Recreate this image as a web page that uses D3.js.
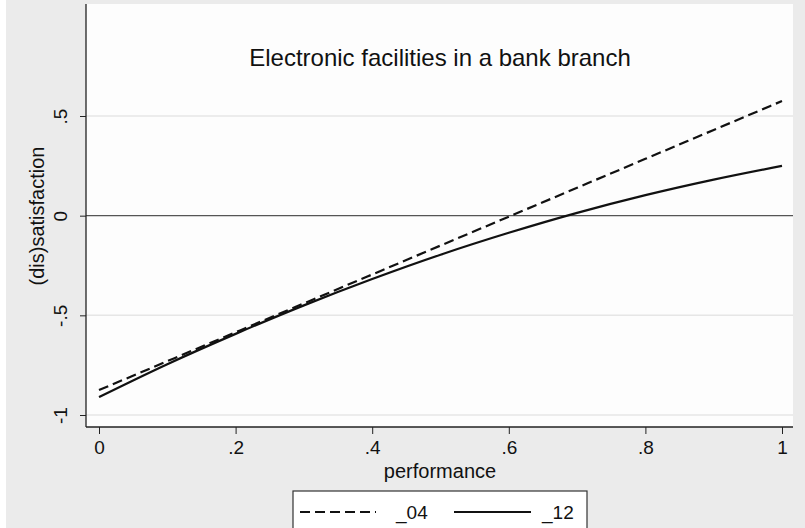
<!DOCTYPE html>
<html>
<head>
<meta charset="utf-8">
<script src="https://cdn.jsdelivr.net/npm/d3@7"></script>
<style>
body { margin: 0; background: #ffffff; }
text { font-family: "Liberation Sans", Arial, sans-serif; fill: #111; }
</style>
</head>
<body>
<svg id="chart" width="805" height="528"></svg>
<script>
// values
var perf = [0, 0.1, 0.2, 0.3, 0.4, 0.5, 0.6, 0.7, 0.8, 0.9, 1];
var sat04 = [-0.875, -0.73, -0.585, -0.44, -0.295, -0.15, -0.005, 0.14, 0.285, 0.43, 0.575];
var sat12 = [-0.91, -0.745, -0.593, -0.45, -0.318, -0.196, -0.086, 0.014, 0.103, 0.181, 0.25];
var xTicks = [0, 0.2, 0.4, 0.6, 0.8, 1];
var yTicks = [-1, -0.5, 0, 0.5];
var title = "Electronic facilities in a bank branch";

var svg = d3.select("#chart");

// outer gray panel
svg.append("rect").attr("x", 6).attr("y", 0).attr("width", 799).attr("height", 528).attr("fill", "#ebebeb");

var pLeft = 86, pRight = 793, pTop = 4, pBottom = 427;
svg.append("rect").attr("x", pLeft).attr("y", pTop).attr("width", pRight - pLeft).attr("height", pBottom - pTop).attr("fill", "#fdfdfd");

var x = d3.scaleLinear().domain([0, 1]).range([99, 782]);
var y = d3.scaleLinear().domain([-1, 0.5]).range([415, 116]);

function fmt(v)
{
	if(v == 0) return "0";
	if(v == 1) return "1";
	return String(v).replace("0.", ".");
}

// gridlines
yTicks.forEach(function(t)
{
	if(t == 0) return;
	svg.append("line")
		.attr("x1", pLeft).attr("x2", pRight)
		.attr("y1", y(t)).attr("y2", y(t))
		.attr("stroke", "#e6e6e6").attr("stroke-width", 1.5);
});

// zero line
svg.append("line")
	.attr("x1", pLeft).attr("x2", pRight)
	.attr("y1", y(0)).attr("y2", y(0))
	.attr("stroke", "#555").attr("stroke-width", 1.2);

// axes
var xAxis = d3.axisBottom(x).tickValues(xTicks).tickFormat(fmt).tickSize(7).tickPadding(7);
var gx = svg.append("g").attr("transform", "translate(0," + pBottom + ")").call(xAxis);
gx.select(".domain").remove();
gx.selectAll("line").attr("stroke", "#222");
gx.selectAll("text").style("font-size", "19px").attr("fill", "#111");
svg.append("line").attr("x1", pLeft).attr("x2", pRight).attr("y1", pBottom).attr("y2", pBottom)
	.attr("stroke", "#222").attr("stroke-width", 1.3);

var yAxis = d3.axisLeft(y).tickValues(yTicks).tickFormat(fmt).tickSize(6).tickPadding(0);
var gy = svg.append("g").attr("transform", "translate(" + pLeft + ",0)").call(yAxis);
gy.select(".domain").remove();
gy.selectAll("line").attr("stroke", "#222");
gy.selectAll("text")
	.style("font-size", "19px")
	.attr("text-anchor", "middle")
	.attr("x", null)
	.attr("dy", null)
	.attr("transform", "translate(-19,0) rotate(-90)")
	.attr("y", 0);
svg.append("line").attr("x1", pLeft).attr("x2", pLeft).attr("y1", pTop).attr("y2", pBottom)
	.attr("stroke", "#222").attr("stroke-width", 1.3);

// curves
var line = d3.line()
	.x(function(d) { return x(d[0]); })
	.y(function(d) { return y(d[1]); })
	.curve(d3.curveMonotoneX);

svg.append("path")
	.datum(perf.map(function(p, i) { return [p, sat12[i]]; }))
	.attr("d", line)
	.attr("fill", "none").attr("stroke", "#111").attr("stroke-width", 2.2);

svg.append("path")
	.datum(perf.map(function(p, i) { return [p, sat04[i]]; }))
	.attr("d", line)
	.attr("fill", "none").attr("stroke", "#111").attr("stroke-width", 2.2)
	.attr("stroke-dasharray", "10,5");

// texts
svg.append("text").attr("x", 440).attr("y", 66).attr("text-anchor", "middle")
	.style("font-size", "24px").text(title);
svg.append("text").attr("x", 440).attr("y", 478).attr("text-anchor", "middle")
	.style("font-size", "20px").text("performance");
svg.append("text").attr("transform", "translate(44,216) rotate(-90)").attr("text-anchor", "middle")
	.style("font-size", "20px").text("(dis)satisfaction");

// legend
var lg = svg.append("g");
lg.append("rect").attr("x", 293).attr("y", 491).attr("width", 294).attr("height", 40)
	.attr("fill", "#fff").attr("stroke", "#333").attr("stroke-width", 1.2);
lg.append("line").attr("x1", 300).attr("x2", 376).attr("y1", 512).attr("y2", 512)
	.attr("stroke", "#111").attr("stroke-width", 2.2).attr("stroke-dasharray", "10,5");
lg.append("text").attr("x", 396).attr("y", 519).style("font-size", "19px").text("_04");
lg.append("line").attr("x1", 454).attr("x2", 531).attr("y1", 512).attr("y2", 512)
	.attr("stroke", "#111").attr("stroke-width", 2.2);
lg.append("text").attr("x", 542).attr("y", 519).style("font-size", "19px").text("_12");
</script>
</body>
</html>
